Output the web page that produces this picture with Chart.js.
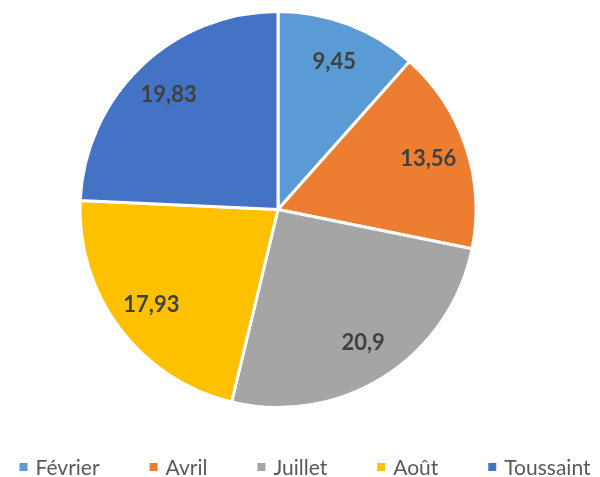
<!DOCTYPE html>
<html>
<head>
<meta charset="utf-8">
<script src="https://cdn.jsdelivr.net/npm/chart.js@4/dist/chart.umd.min.js"></script>
<style>
  body { margin: 0; background: #fff; }
  canvas { display: block; }
</style>
</head>
<body>
<canvas id="pie" width="600" height="477"></canvas>
<script>
// données
const periodes = ['Février', 'Avril', 'Juillet', 'Août', 'Toussaint'];
const valeurs = [9.45, 13.56, 20.9, 17.93, 19.83];
const couleurs = ['#5B9BD5', '#ED7D31', '#A5A5A5', '#FFC000', '#4472C4'];

// étiquettes de valeur dans les parts
const etiquettes = {
  id: 'etiquettes',
  afterDatasetsDraw(chart) {
    const ctx = chart.ctx;
    const meta = chart.getDatasetMeta(0);
    ctx.save();
    ctx.font = 'bold 22px Lato';
    ctx.fillStyle = '#404040';
    ctx.textAlign = 'center';
    ctx.textBaseline = 'middle';
    meta.data.forEach((arc, i) => {
      const p = arc.getProps(['x', 'y', 'startAngle', 'endAngle', 'outerRadius']);
      const a = (p.startAngle + p.endAngle) / 2;
      const r = p.outerRadius * 0.8;
      ctx.fillText(String(valeurs[i]).replace('.', ','), p.x + Math.cos(a) * r, p.y + Math.sin(a) * r);
    });
    ctx.restore();
  }
};

// légende en bas, dessinée à la main
const legende = {
  id: 'legende',
  afterDraw(chart) {
    const ctx = chart.ctx;
    ctx.save();
    ctx.font = '21px Lato';
    const box = 8, gapTexte = 8, gapItem = 50;
    const largeurs = periodes.map(p => box + gapTexte + ctx.measureText(p).width);
    const total = largeurs.reduce((a, b) => a + b, 0) + gapItem * (periodes.length - 1);
    let x = 305 - total / 2;
    const y = 467;
    ctx.textBaseline = 'middle';
    periodes.forEach((p, i) => {
      ctx.fillStyle = couleurs[i];
      ctx.fillRect(x, y - box / 2, box, box);
      ctx.fillStyle = '#595959';
      ctx.fillText(p, x + box + gapTexte, y + 1);
      x += largeurs[i] + gapItem;
    });
    ctx.restore();
  }
};

new Chart(document.getElementById('pie'), {
  type: 'pie',
  data: {
    labels: periodes,
    datasets: [{
      data: valeurs,
      backgroundColor: couleurs,
      borderColor: '#ffffff',
      borderWidth: 3
    }]
  },
  options: {
    responsive: false,
    animation: false,
    layout: { padding: { top: 10, bottom: 68, left: 0, right: 44 } },
    plugins: {
      legend: { display: false },
      tooltip: { enabled: false }
    }
  },
  plugins: [etiquettes, legende]
});
</script>
</body>
</html>
